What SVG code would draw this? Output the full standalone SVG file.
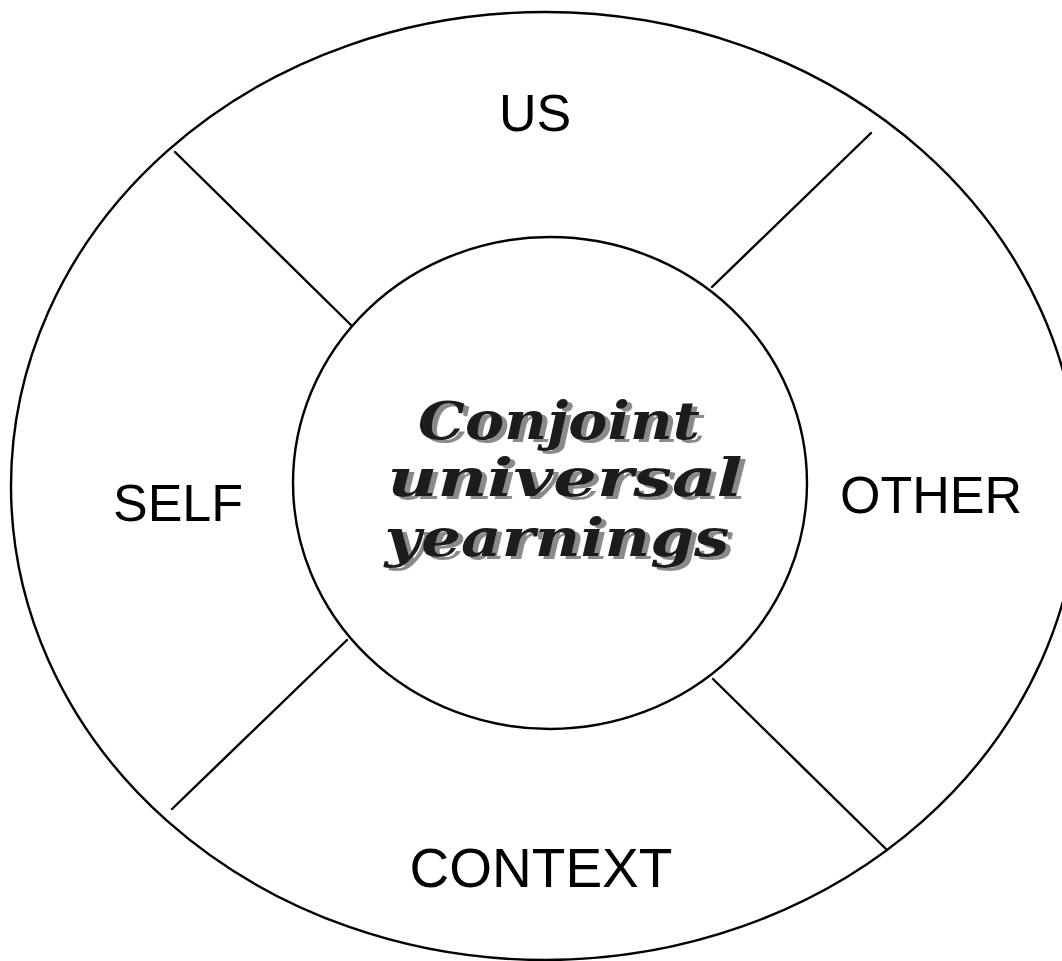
<svg xmlns="http://www.w3.org/2000/svg" width="1062" height="961" viewBox="0 0 1062 961">
<style>
.ring{fill:none;stroke:#000;stroke-width:2.4}
.conn{stroke:#000;stroke-width:2.4;stroke-linecap:round}
.lbl{font-family:"Liberation Sans",Arial,sans-serif;font-size:52px;fill:#000;text-anchor:middle}
.core{font-family:"DejaVu Serif","Liberation Serif",serif;font-style:italic;font-weight:bold;font-size:52px;text-anchor:middle;fill:#1a1a1a}
</style>
<defs>
<filter id="hatch" x="-10%" y="-20%" width="120%" height="140%">
<feDropShadow dx="5" dy="3" stdDeviation="0.6" flood-color="#8a8a8a" flood-opacity="1"/>
</filter>
</defs>
<rect width="1062" height="961" fill="#fff"/>
<g id="outer-ring">
<ellipse class="ring" cx="545" cy="486" rx="534" ry="474"/>
</g>
<g id="connectors">
<line class="conn" x1="175" y1="152" x2="352" y2="326"/>
<line class="conn" x1="871" y1="133" x2="712" y2="287"/>
<line class="conn" x1="172" y1="809" x2="347" y2="640"/>
<line class="conn" x1="713" y1="679" x2="886" y2="849"/>
</g>
<g id="us"><text class="lbl" x="535" y="131" font-size="53">US</text></g>
<g id="self"><text class="lbl" x="178" y="521">SELF</text></g>
<g id="other"><text class="lbl" x="931" y="513">OTHER</text></g>
<g id="context"><text class="lbl" x="541" y="887" style="font-size:55px">CONTEXT</text></g>
<g id="center">
<ellipse class="ring" cx="550" cy="483" rx="257" ry="246"/>
<g class="core" filter="url(#hatch)">
<text x="559" y="439" textLength="282" lengthAdjust="spacingAndGlyphs">Conjoint</text>
<text x="565" y="496" textLength="355" lengthAdjust="spacingAndGlyphs">universal</text>
<text x="557" y="556" textLength="345" lengthAdjust="spacingAndGlyphs">yearnings</text>
</g>
</g>
</svg>
